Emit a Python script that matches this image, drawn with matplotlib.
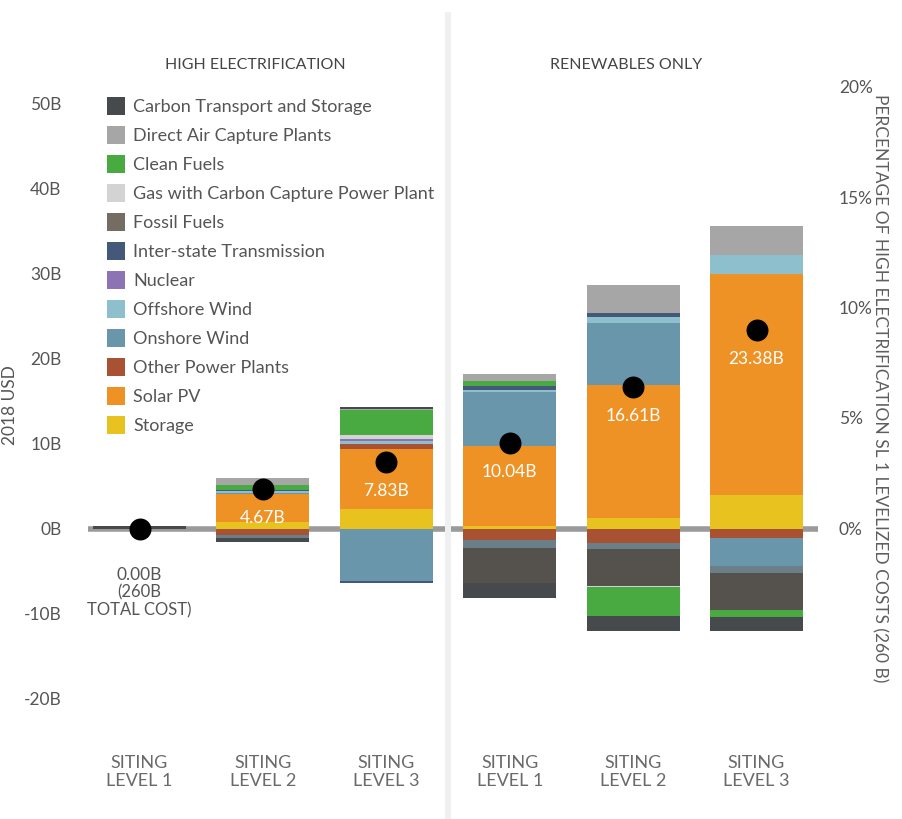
import matplotlib
matplotlib.use('Agg')
import matplotlib.pyplot as plt
from matplotlib.patches import Rectangle
import numpy as np

plt.rcParams['font.family'] = ['Lato', 'DejaVu Sans']

# ---------------- data ----------------
categories = ["Carbon Transport and Storage", "Direct Air Capture Plants", "Clean Fuels",
              "Gas with Carbon Capture Power Plant", "Fossil Fuels", "Inter-state Transmission",
              "Nuclear", "Offshore Wind", "Onshore Wind", "Other Power Plants", "Solar PV", "Storage"]
legend_colors = ["#464a4c", "#a6a6a6", "#4aaa42", "#d3d3d3", "#756c62", "#44597a",
                 "#8c73b3", "#8dbfcc", "#6996ab", "#a95233", "#ee9226", "#e8c31f"]
neg_color_override = {"Fossil Fuels": "#55514c", "Nuclear": "#6a7f88"}

panels = ["HIGH ELECTRIFICATION", "RENEWABLES ONLY"]
bar_labels = ["SITING\nLEVEL 1", "SITING\nLEVEL 2", "SITING\nLEVEL 3",
              "SITING\nLEVEL 1", "SITING\nLEVEL 2", "SITING\nLEVEL 3"]

# values in billions USD, bars: HE SL1, HE SL2, HE SL3, RO SL1, RO SL2, RO SL3
carbon_transport = [0.25, -0.47, 0.20, -1.73, -1.76, -1.61]
direct_air       = [0.00, 0.82, 0.15, 0.71, 3.29, 3.41]
clean_fuels      = [0.00, 0.62, 2.94, 0.59, -3.38, -0.94]
gas_ccs          = [0.00, 0.00, 0.47, 0.00, -0.15, 0.00]
fossil_fuels     = [0.00, 0.00, 0.00, -4.15, -4.24, -4.35]
transmission     = [0.00, 0.15, -0.32, 0.47, 0.47, 0.00]
nuclear          = [0.00, -0.32, 0.24, -0.90, -0.82, -0.71]
offshore_wind    = [0.00, 0.15, 0.24, 0.24, 0.82, 2.12]
onshore_wind     = [0.00, 0.15, -6.12, 6.35, 7.18, -3.41]
other_power      = [0.00, -0.82, 0.59, -1.41, -1.65, -1.06]
solar_pv         = [0.00, 3.34, 7.06, 9.41, 15.76, 26.00]
storage          = [0.00, 0.74, 2.35, 0.35, 1.18, 4.00]

series = [carbon_transport, direct_air, clean_fuels, gas_ccs, fossil_fuels, transmission,
          nuclear, offshore_wind, onshore_wind, other_power, solar_pv, storage]

net_values = [0.00, 4.67, 7.83, 10.04, 16.61, 23.38]
total_cost = 260.0

left_ticks = [-20, -10, 0, 10, 20, 30, 40, 50]
right_ticks = [0, 5, 10, 15, 20]

# ---------------- figure ----------------
W, H = 902, 819
fig = plt.figure(figsize=(W / 100, H / 100), dpi=100)

ax_left_px, ax_right_px = 88, 818
ax_top_px, ax_bot_px = 20, 740
zero_px, px_per_b = 528.5, 8.5
ymax = (zero_px - ax_top_px) / px_per_b
ymin = -(ax_bot_px - zero_px) / px_per_b

ax = fig.add_axes([ax_left_px / W, 1 - ax_bot_px / H,
                   (ax_right_px - ax_left_px) / W, (ax_bot_px - ax_top_px) / H])
ax.set_ylim(ymin, ymax)
x0_px, step_px = 139.5, 123.4
ax.set_xlim((ax_left_px - x0_px) / step_px, (ax_right_px - x0_px) / step_px)

x = np.arange(len(bar_labels))
width = 93 / step_px

# divider between panels
fig.patches.append(Rectangle((445 / W, 0), 6 / W, 1 - 12 / H, transform=fig.transFigure,
                             facecolor="#eff1f0", edgecolor="none", zorder=0))

# zero line
ax.axhline(0, color="#9a9a9a", lw=4.0, zorder=1)

# stacked bars (bottom-up in reverse legend order)
pos_bottom = np.zeros(len(x))
neg_bottom = np.zeros(len(x))
for cat, col, vals in reversed(list(zip(categories, legend_colors, series))):
    v = np.array(vals, dtype=float)
    pos = np.where(v > 0, v, 0)
    neg = np.where(v < 0, v, 0)
    if pos.any():
        ax.bar(x, pos, width, bottom=pos_bottom, color=col, linewidth=0, zorder=2)
    if neg.any():
        ax.bar(x, neg, width, bottom=neg_bottom, color=neg_color_override.get(cat, col),
               linewidth=0, zorder=2)
    pos_bottom += pos
    neg_bottom += neg

# net dots and labels
ax.scatter(x, net_values, s=250, color="black", zorder=4, linewidths=0)
for i, v in enumerate(net_values):
    if i == 0:
        ax.text(x[i], v - 5.5, f"{v:.2f}B", ha="center", va="center", fontsize=12.5,
                color="#555555", zorder=5)
        ax.text(x[i], v - 8.6, f"({total_cost:.0f}B\nTOTAL COST)", ha="center", va="center",
                fontsize=12, color="#555555", linespacing=1.15, zorder=5)
    else:
        ax.text(x[i], v - 3.4, f"{v:.2f}B", ha="center", va="center", fontsize=12.5,
                color="white", zorder=5)

# axes styling
for s in ax.spines.values():
    s.set_visible(False)
ax.set_xticks([])
ax.set_yticks(left_ticks)
ax.set_yticklabels([f"{t}B" for t in left_ticks], fontsize=12.5, color="#555555")
ax.tick_params(axis="y", length=0, pad=19)
ax.set_ylabel("2018 USD", fontsize=12.5, color="#555555", labelpad=0)
ax.yaxis.set_label_coords((18 - ax_left_px) / (ax_right_px - ax_left_px),
                          (ax_bot_px - 405) / (ax_bot_px - ax_top_px))
ax.patch.set_visible(False)

ax2 = ax.twinx()
ax2.set_ylim(ymin / total_cost * 100, ymax / total_cost * 100)
ax2.set_yticks(right_ticks)
ax2.set_yticklabels([f"{t}%" for t in right_ticks], fontsize=12.5, color="#555555")
ax2.tick_params(axis="y", length=0, pad=15)
for s in ax2.spines.values():
    s.set_visible(False)
ax2.set_ylabel("PERCENTAGE OF HIGH ELECTRIFICATION SL 1 LEVELIZED COSTS (260 B)",
               rotation=-90, fontsize=12.5, color="#5e5e5e", labelpad=0)
ax2.yaxis.set_label_coords((888 - ax_left_px) / (ax_right_px - ax_left_px),
                           (ax_bot_px - 388) / (ax_bot_px - ax_top_px))

# x labels
for i, lab in enumerate(bar_labels):
    fig.text((x0_px + step_px * i) / W, 1 - 772 / H, lab, ha="center", va="center",
             fontsize=13, color="#6a6a6a", linespacing=1.2)

# panel titles
fig.text(255 / W, 1 - 65 / H, panels[0], ha="center", va="center", fontsize=11.5, color="#444444")
fig.text(626 / W, 1 - 65 / H, panels[1], ha="center", va="center", fontsize=11.5, color="#444444")

# legend
for k, (cat, col) in enumerate(zip(categories, legend_colors)):
    yc = 106 + 29 * k
    fig.patches.append(Rectangle((107 / W, 1 - (yc + 9) / H), 18 / W, 18 / H,
                                 transform=fig.transFigure, facecolor=col, edgecolor="none"))
    fig.text(133 / W, 1 - (yc + 1) / H, cat, ha="left", va="center", fontsize=13, color="#555555")

fig.savefig("out.png", dpi=100)
